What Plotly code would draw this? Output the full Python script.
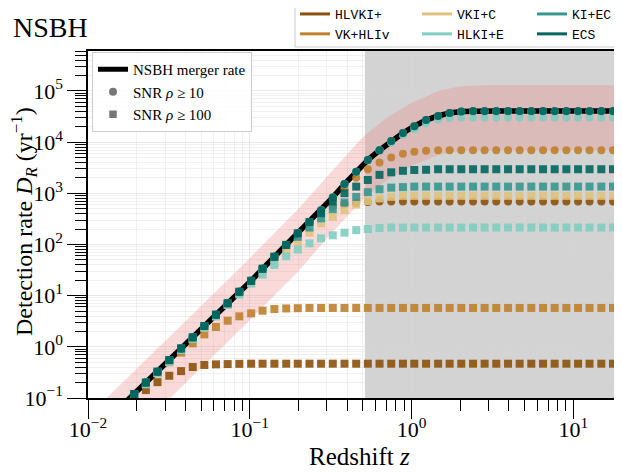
import plotly.graph_objects as go

# ---------------- data ----------------
networks = ["HLVKI+", "VK+HLIv", "VKI+C", "HLKI+E", "KI+EC", "ECS"]
net_colors = ["#8c510a", "#bf812d", "#dfc27d", "#80cdc1", "#35978f", "#01665e"]

redshift = [0.0193, 0.0228, 0.0269, 0.0318, 0.0376, 0.0444, 0.0524, 0.0618, 0.0730, 0.0862,
            0.102, 0.120, 0.142, 0.168, 0.198, 0.234, 0.276, 0.326, 0.385, 0.455,
            0.537, 0.634, 0.749, 0.885, 1.04, 1.23, 1.46, 1.72, 2.03, 2.40,
            2.83, 3.34, 3.95, 4.66, 5.50, 6.50, 7.67, 9.06, 10.7, 12.6,
            14.9, 17.6]

rate_z = [0.0163, 0.0193, 0.0228, 0.0269, 0.0318, 0.0376, 0.0444, 0.0524, 0.0618, 0.0730, 0.0862,
          0.102, 0.120, 0.142, 0.168, 0.198, 0.234, 0.276, 0.326, 0.385, 0.455,
          0.537, 0.634, 0.749, 0.885, 1.04, 1.23, 1.46, 1.72, 2.03, 2.40,
          2.83, 3.34, 3.95, 4.66, 5.50, 6.50, 7.67, 9.06, 10.7, 12.6,
          14.9, 17.6, 20.0]
merger_rate = [0.072, 0.12, 0.20, 0.327, 0.55, 0.93, 1.53, 2.55, 4.24, 7.1, 11.9,
               19.5, 33.5, 57.5, 98, 165, 275, 468, 830, 1510, 2630,
               4470, 6920, 10500, 15100, 20400, 26900, 32400, 37200, 39800, 40700,
               40700, 40700, 40700, 40700, 40700, 40700, 40700, 40700, 40700, 40700,
               40700, 40700, 40700]

band_z = [0.01, 0.02, 0.05, 0.1, 0.2, 0.3, 0.5, 0.7, 1.0, 1.5, 2.0, 3.0, 5.0, 10.0, 20.0]
band_upper = [0.044, 0.38, 6.3, 54, 500, 2100, 12600, 29500, 59000, 102000, 123000, 129000, 129000, 129000, 129000]
band_lower = [0.0027, 0.023, 0.39, 3.3, 30, 132, 760, 1780, 3470, 5750, 6760, 6900, 6900, 6900, 6900]

# SNR >= 10 (circles)
hlvki_snr10 = [0.12, 0.20, 0.327, 0.55, 0.93, 1.53, 2.55, 4.24, 7.1, 11.9,
               19.5, 33.5, 57.5, 98, 165, 275, 417, 550, 617, 646,
               676, 692, 692, 692, 692, 692, 692, 692, 692, 692,
               692, 692, 692, 692, 692, 692, 692, 692, 692, 692, 692, 692]
vkhliv_snr10 = [0.12, 0.20, 0.327, 0.55, 0.93, 1.53, 2.55, 4.24, 7.1, 11.9,
                19.5, 33.5, 57.5, 98, 165, 275, 468, 760, 1260, 2000,
                2950, 3980, 5010, 5890, 6460, 6760, 6920, 6920, 6920, 6920,
                6920, 6920, 6920, 6920, 6920, 6920, 6920, 6920, 6920, 6920, 6920, 6920]
vkic_snr10 = [0.12, 0.20, 0.327, 0.55, 0.93, 1.53, 2.55, 4.24, 7.1, 11.9,
              19.5, 33.5, 57.5, 98, 165, 275, 468, 830, 1510, 2630,
              4470, 6920, 10500, 15100, 20400, 26900, 32400, 37200, 39200, 39800,
              39800, 39800, 39800, 39800, 39800, 39800, 39800, 39800, 39800, 39800, 39800, 39800]
hlkie_snr10 = [0.12, 0.20, 0.327, 0.55, 0.93, 1.53, 2.55, 4.24, 7.1, 11.9,
               19.5, 33.5, 57.5, 98, 165, 275, 468, 830, 1510, 2630,
               4470, 6920, 9800, 13800, 17800, 23400, 27500, 29500, 30200, 30200,
               30200, 30200, 30200, 30200, 30200, 30200, 30200, 30200, 30200, 30200, 30200, 30200]
kiec_snr10 = [0.12, 0.20, 0.327, 0.55, 0.93, 1.53, 2.55, 4.24, 7.1, 11.9,
              19.5, 33.5, 57.5, 98, 165, 275, 468, 830, 1510, 2630,
              4470, 6920, 10500, 15100, 20400, 26900, 32400, 37200, 39500, 40200,
              40200, 40200, 40200, 40200, 40200, 40200, 40200, 40200, 40200, 40200, 40200, 40200]
ecs_snr10 = [0.12, 0.20, 0.327, 0.55, 0.93, 1.53, 2.55, 4.24, 7.1, 11.9,
             19.5, 33.5, 57.5, 98, 165, 275, 468, 830, 1510, 2630,
             4470, 6920, 10500, 15100, 20400, 26900, 32400, 37200, 39800, 40700,
             40700, 40700, 40700, 40700, 40700, 40700, 40700, 40700, 40700, 40700, 40700, 40700]

# SNR >= 100 (squares)
hlvki_snr100 = [0.087, 0.143, 0.204, 0.272, 0.335, 0.403, 0.442, 0.454, 0.46, 0.465,
                0.468, 0.468, 0.468, 0.468, 0.468, 0.468, 0.468, 0.468, 0.468, 0.468,
                0.468, 0.468, 0.468, 0.468, 0.468, 0.468, 0.468, 0.468, 0.468, 0.468,
                0.468, 0.468, 0.468, 0.468, 0.468, 0.468, 0.468, 0.468, 0.468, 0.468, 0.468, 0.468]
vkhliv_snr100 = [0.117, 0.19, 0.31, 0.50, 0.77, 1.17, 1.75, 2.44, 3.24, 3.94,
                 4.51, 5.07, 5.47, 5.62, 5.69, 5.75, 5.75, 5.75, 5.75, 5.75,
                 5.75, 5.75, 5.75, 5.75, 5.75, 5.75, 5.75, 5.75, 5.75, 5.75,
                 5.75, 5.75, 5.75, 5.75, 5.75, 5.75, 5.75, 5.75, 5.75, 5.75, 5.75, 5.75]
vkic_snr100 = [0.112, 0.186, 0.304, 0.51, 0.865, 1.42, 2.37, 3.94, 6.6, 11.0,
               17.4, 28.2, 44.7, 69, 107, 170, 257, 347, 468, 603,
               708, 794, 851, 891, 891, 891, 891, 891, 891, 891,
               891, 891, 891, 891, 891, 891, 891, 891, 891, 891, 891, 891]
hlkie_snr100 = [0.112, 0.186, 0.304, 0.51, 0.865, 1.42, 2.37, 3.94, 6.6, 10.5,
                17.4, 25.7, 39.8, 58.9, 79.4, 105, 132, 151, 170, 191,
                200, 209, 214, 214, 214, 214, 214, 214, 214, 214,
                214, 214, 214, 214, 214, 214, 214, 214, 214, 214, 214, 214]
kiec_snr100 = [0.12, 0.20, 0.327, 0.55, 0.93, 1.53, 2.55, 4.24, 7.1, 11.9,
               19.5, 33.5, 57.5, 98, 141, 214, 324, 490, 660, 851,
               1050, 1200, 1290, 1320, 1350, 1350, 1350, 1350, 1350, 1350,
               1350, 1350, 1350, 1350, 1350, 1350, 1350, 1350, 1350, 1350, 1350, 1350]
ecs_snr100 = [0.12, 0.20, 0.327, 0.55, 0.93, 1.53, 2.55, 4.24, 7.1, 11.9,
              19.5, 33.5, 57.5, 98, 165, 275, 407, 692, 1000, 1350,
              1820, 2290, 2570, 2750, 2850, 2880, 2950, 2950, 2950, 2950,
              2950, 2950, 2950, 2950, 2950, 2950, 2950, 2950, 2950, 2950, 2950, 2950]

snr10_series = [hlvki_snr10, vkhliv_snr10, vkic_snr10, hlkie_snr10, kiec_snr10, ecs_snr10]
snr100_series = [hlvki_snr100, vkhliv_snr100, vkic_snr100, hlkie_snr100, kiec_snr100, ecs_snr100]

x_ticks = [0.01, 0.1, 1, 10]
x_ticktext = ["10<sup>−2</sup>", "10<sup>−1</sup>", "10<sup>0</sup>", "10<sup>1</sup>"]
y_ticks = [0.1, 1, 10, 100, 1000, 10000, 100000]
y_ticktext = ["10<sup>−1</sup>", "10<sup>0</sup>", "10<sup>1</sup>", "10<sup>2</sup>",
              "10<sup>3</sup>", "10<sup>4</sup>", "10<sup>5</sup>"]
shade_start = 0.515

# ---------------- figure ----------------
# the page body adds an 8 px offset, so the figure is 8 px smaller than the window
OFF = 8
W, H = 622 - OFF, 472 - OFF
ML, MR, MT, MB = 88 - OFF, 0, 51 - OFF, 472 - 398
PW, PH = W - ML - MR, H - MT - MB


def px_x(p):  # window pixel -> paper x
    return (p - OFF - ML) / PW


def px_y(p):  # window pixel -> paper y
    return (H - MB - (p - OFF)) / PH


SERIF = "Liberation Serif, Times New Roman, serif"
MONO = "Liberation Mono, DejaVu Sans Mono, monospace"

fig = go.Figure()

# pink uncertainty band
fig.add_trace(go.Scatter(x=band_z, y=band_lower, mode="lines", line=dict(width=0),
                         showlegend=False, hoverinfo="skip"))
fig.add_trace(go.Scatter(x=band_z, y=band_upper, mode="lines", line=dict(width=0),
                         fill="tonexty", fillcolor="rgba(240,128,128,0.30)",
                         showlegend=False, hoverinfo="skip"))

# merger rate line
fig.add_trace(go.Scatter(x=rate_z, y=merger_rate, mode="lines",
                         line=dict(color="black", width=5.5),
                         showlegend=False))

for name, col, s10, s100 in zip(networks, net_colors, snr10_series, snr100_series):
    fig.add_trace(go.Scatter(x=redshift, y=s10, mode="markers",
                             marker=dict(symbol="circle", size=8, color=col, opacity=0.9,
                                         line=dict(width=0)),
                             showlegend=False, name=name))
    fig.add_trace(go.Scatter(x=redshift, y=s100, mode="markers",
                             marker=dict(symbol="square", size=8, color=col, opacity=0.9,
                                         line=dict(width=0)),
                             showlegend=False, name=name))

# network legend (three columns)
legend_cols = [("legend", [0, 1]), ("legend3", [2, 3]), ("legend4", [4, 5])]
for lg, idxs in legend_cols:
    for i in idxs:
        fig.add_trace(go.Scatter(x=[None], y=[None], mode="lines", name=networks[i],
                                 line=dict(color=net_colors[i], width=3), legend=lg))

# inner legend
fig.add_trace(go.Scatter(x=[None], y=[None], mode="lines", name="NSBH merger rate",
                         line=dict(color="black", width=5), legend="legend2"))
fig.add_trace(go.Scatter(x=[None], y=[None], mode="markers", name="SNR <i>ρ</i> ≥ 10",
                         marker=dict(symbol="circle", size=8, color="#777777"), legend="legend2"))
fig.add_trace(go.Scatter(x=[None], y=[None], mode="markers", name="SNR <i>ρ</i> ≥ 100",
                         marker=dict(symbol="square", size=7.5, color="#777777"), legend="legend2"))

grid_c = "rgba(215,215,215,0.55)"
minor_x = [m * d for d in [0.01, 0.1, 1, 10] for m in range(2, 10) if m * d <= 20]
minor_y = [m * d for d in [0.1, 1, 10, 100, 1000, 10000, 100000] for m in range(2, 10) if m * d <= 6e5]

axis_common = dict(type="log", showline=True, linecolor="black", linewidth=1.5,
                   ticks="outside", ticklen=19, tickwidth=1.2, tickcolor="black",
                   showgrid=True, gridcolor=grid_c, gridwidth=1, zeroline=False,
                   tickfont=dict(family=SERIF, size=22, color="black"))

leg_font = dict(family=MONO, size=13, color="black")
top_leg_y = px_y(-1)

fig.update_layout(
    width=W, height=H, autosize=False,
    margin=dict(l=ML, r=MR, t=MT, b=MB, pad=0, autoexpand=False),
    paper_bgcolor="white", plot_bgcolor="white",
    xaxis=dict(**axis_common, range=[-2, 1.30103], tickmode="array", tickvals=x_ticks,
               ticktext=x_ticktext, mirror=True, ticklabelstandoff=-8,
               minor=dict(tickmode="array", tickvals=minor_x, ticks="outside", ticklen=11,
                          tickwidth=1, tickcolor="black", showgrid=True,
                          gridcolor="rgba(215,215,215,0.35)")),
    yaxis=dict(**axis_common, range=[-1, 5.78], tickmode="array", tickvals=y_ticks,
               ticktext=y_ticktext, mirror=False,
               minor=dict(tickmode="array", tickvals=minor_y, ticks="outside", ticklen=11,
                          tickwidth=1, tickcolor="black", showgrid=True,
                          gridcolor="rgba(215,215,215,0.35)")),
    shapes=[
        dict(type="rect", xref="x", yref="paper", x0=shade_start, x1=20, y0=0, y1=1,
             fillcolor="#d3d3d3", line=dict(width=0), layer="below"),
        dict(type="rect", xref="paper", yref="paper", x0=px_x(295), x1=px_x(617),
             y0=px_y(47), y1=px_y(2), fillcolor="white",
             line=dict(color="#cccccc", width=1), layer="above"),
    ],
    legend=dict(x=px_x(295), y=top_leg_y, xanchor="left", yanchor="top", traceorder="normal",
                bgcolor="rgba(0,0,0,0)", borderwidth=0, tracegroupgap=0, font=leg_font),
    legend3=dict(x=px_x(417), y=top_leg_y, xanchor="left", yanchor="top", traceorder="normal",
                 bgcolor="rgba(0,0,0,0)", borderwidth=0, tracegroupgap=0, font=leg_font),
    legend4=dict(x=px_x(532), y=top_leg_y, xanchor="left", yanchor="top", traceorder="normal",
                 bgcolor="rgba(0,0,0,0)", borderwidth=0, tracegroupgap=0, font=leg_font),
    legend2=dict(x=px_x(92), y=px_y(52), xanchor="left", yanchor="top", traceorder="normal",
                 bgcolor="rgba(255,255,255,0.85)", bordercolor="#cccccc", borderwidth=1,
                 tracegroupgap=0, font=dict(family=SERIF, size=15, color="black")),
    annotations=[
        dict(text="NSBH", xref="paper", yref="paper", x=px_x(11), y=px_y(28),
             xanchor="left", yanchor="middle", showarrow=False,
             font=dict(family=SERIF, size=28, color="black")),
        dict(text="Detection rate <i>D</i><sub><i>R</i></sub> (yr<sup>−1</sup>)",
             xref="paper", yref="paper", x=px_x(24), y=px_y(222), textangle=-90,
             xanchor="center", yanchor="middle", showarrow=False,
             font=dict(family=SERIF, size=24, color="black")),
        dict(text="Redshift <i>z</i>", xref="paper", yref="paper", x=px_x(359), y=px_y(456),
             xanchor="center", yanchor="middle", showarrow=False,
             font=dict(family=SERIF, size=25, color="black")),
    ],
)

fig.write_html("out.html")
